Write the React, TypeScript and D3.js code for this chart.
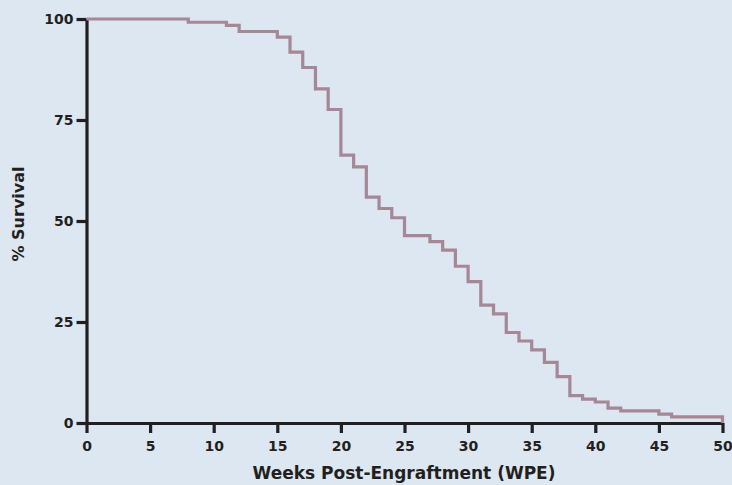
import React, { useEffect, useRef } from 'react';
import * as d3 from 'd3';

// step points: week at which survival drops, and the value after the drop
const weeks = [0, 8, 11, 12, 15, 16, 17, 18, 19, 20, 21, 22, 23, 24, 25, 27, 28, 29, 30, 31, 32, 33, 34, 35, 36, 37, 38, 39, 40, 41, 42, 45, 46, 50];
const survival = [100, 99.2, 98.4, 96.9, 95.5, 91.8, 88.0, 82.7, 77.6, 66.3, 63.4, 55.9, 53.1, 50.8, 46.4, 44.9, 42.8, 38.8, 35.0, 29.2, 27.0, 22.4, 20.3, 18.1, 15.0, 11.5, 6.8, 5.9, 5.2, 3.7, 3.0, 2.2, 1.5, 0];

const xTicks = [0, 5, 10, 15, 20, 25, 30, 35, 40, 45, 50];
const yTicks = [0, 25, 50, 75, 100];

const App = () => {
  const ref = useRef<SVGSVGElement>(null);

  useEffect(() => {
    const svg = d3.select(ref.current);
    svg.selectAll('*').remove();

    const width = 732;
    const height = 485;
    const font = "'DejaVu Sans', sans-serif";

    svg.append('rect').attr('width', width).attr('height', height).attr('fill', '#dce7f1');

    const x = d3.scaleLinear().domain([0, 50]).range([86.5, 722.5]);
    const y = d3.scaleLinear().domain([0, 100]).range([423, 19]);

    const data = weeks.map((w, i) => ({ w, s: survival[i] }));

    const line = d3.line<{ w: number; s: number }>()
      .x(d => x(d.w))
      .y(d => y(d.s))
      .curve(d3.curveStepAfter);

    // axes
    const xAxis = svg.append('g')
      .attr('transform', 'translate(0,' + y(0) + ')')
      .call(d3.axisBottom(x).tickValues(xTicks).tickSize(10).tickSizeOuter(0).tickPadding(8));
    const yAxis = svg.append('g')
      .attr('transform', 'translate(' + x(0) + ',0)')
      .call(d3.axisLeft(y).tickValues(yTicks).tickSize(10).tickSizeOuter(0).tickPadding(3));

    [xAxis, yAxis].forEach(g => {
      g.select('.domain').attr('stroke', '#231f20').attr('stroke-width', 3.2);
      g.selectAll('.tick line').attr('stroke', '#231f20').attr('stroke-width', 3.2);
      g.selectAll('.tick text')
        .attr('fill', '#231f20')
        .style('font-family', font)
        .style('font-weight', 700)
        .style('font-size', '14px');
    });

    svg.append('path')
      .datum(data)
      .attr('d', line)
      .attr('fill', 'none')
      .attr('stroke', '#a58795')
      .attr('stroke-width', 3.2);

    svg.append('text')
      .attr('x', 404)
      .attr('y', 479)
      .attr('text-anchor', 'middle')
      .attr('fill', '#231f20')
      .style('font-family', font)
      .style('font-weight', 700)
      .style('font-size', '17px')
      .text('Weeks Post-Engraftment (WPE)');

    svg.append('text')
      .attr('transform', 'translate(24,214) rotate(-90)')
      .attr('text-anchor', 'middle')
      .attr('fill', '#231f20')
      .style('font-family', font)
      .style('font-weight', 700)
      .style('font-size', '16px')
      .text('% Survival');
  }, []);

  return (
    <svg ref={ref} width={732} height={485} style={{ position: 'absolute', left: 0, top: 0 }} />
  );
};

export default App;
